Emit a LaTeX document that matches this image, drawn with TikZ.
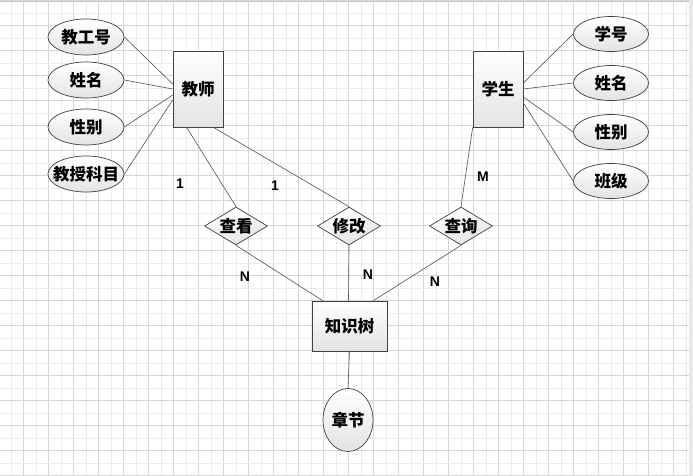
\documentclass[tikz,border=0pt]{standalone}
\usepackage{fontspec}
\usetikzlibrary{shapes.geometric,calc}
\newfontfamily\cjk{Noto Sans CJK SC}
\setsansfont{Liberation Sans}
\newcommand\zw[1]{\makebox[0pt]{#1}}
\definecolor{edgec}{HTML}{5A5A5A}
\definecolor{bordc}{HTML}{404040}
\tikzset{
  minorgrid/.style={draw=gray!16,line width=0.6pt},
  majorgrid/.style={draw=gray!32,line width=0.6pt},
  shapebase/.style={draw=bordc,line width=0.7pt,top color=white,bottom color=gray!22,inner sep=0pt,font=\cjk\bfseries\fontsize{16.5}{17}\selectfont},
  ent/.style={shapebase,rectangle,minimum width=50pt,minimum height=76pt},
  attr/.style={shapebase,ellipse,minimum width=76pt,minimum height=36pt},
  rel/.style={shapebase,diamond,minimum width=63pt,minimum height=38pt,shading angle=20},
  conn/.style={draw=edgec,line width=0.65pt},
  card/.style={font=\sffamily\bfseries\fontsize{14}{14}\selectfont,inner sep=0pt}
}
\begin{document}
\begin{tikzpicture}[x=1pt,y=-1pt]
\useasboundingbox (0,0) rectangle (693,476);
\fill[white] (0,0) rectangle (693,476);
% grid
\foreach \i in {0,...,54} {
  \pgfmathsetmacro\xx{10.8+12.5*\i}
  \ifodd\i \draw[majorgrid] (\xx,0) -- (\xx,476); \else \draw[minorgrid] (\xx,0) -- (\xx,476); \fi
}
\foreach \i in {0,...,38} {
  \pgfmathsetmacro\yy{0.7+12.5*\i}
  \ifodd\i \draw[minorgrid] (0,\yy) -- (693,\yy); \else \draw[majorgrid] (0,\yy) -- (693,\yy); \fi
}
\fill[gray!18] (689,0) rectangle (693,476);
\draw[gray!45,line width=0.6pt] (0,1) -- (689,1);

% entities
\node[ent] (t) at (198,89) {教师};
\node[ent] (s) at (498,89) {学生};
\node[ent,minimum width=75pt,minimum height=50pt] (k) at (349.5,326) {知识树};

% teacher attributes
\node[attr] (a1) at (86,37) {\zw{教工号}};
\node[attr] (a2) at (86,80) {\zw{姓名}};
\node[attr] (a3) at (86,127) {\zw{性别}};
\node[attr] (a4) at (86,174) {\zw{教授科目}};

% student attributes
\node[attr,minimum width=75pt,minimum height=35pt] (b1) at (611,34) {\zw{学号}};
\node[attr,minimum width=75pt,minimum height=35pt] (b2) at (611,83) {\zw{姓名}};
\node[attr,minimum width=75pt,minimum height=35pt] (b3) at (611,132) {\zw{性别}};
\node[attr,minimum width=75pt,minimum height=35pt] (b4) at (611,181) {\zw{班级}};

% chapter
\node[attr,minimum width=50pt,minimum height=63pt] (c) at (348,420) {\zw{章节}};

% relations
\node[rel] (r1) at (236,226) {\zw{查看}};
\node[rel] (r2) at (349,226) {\zw{修改}};
\node[rel] (r3) at (461,226) {\zw{查询}};

% connectors
\draw[conn] (a1.east) -- ($(t.west)+(0,-5)$);
\draw[conn] (a2.east) -- (t.west);
\draw[conn] (a3.east) -- ($(t.west)+(0,6)$);
\draw[conn] (a4.east) -- ($(t.west)+(0,11)$);

\draw[conn] ($(s.east)+(0,-6)$) -- (b1.west);
\draw[conn] (s.east) -- (b2.west);
\draw[conn] ($(s.east)+(0,8)$) -- (b3.west);
\draw[conn] ($(s.east)+(0,14)$) -- (b4.west);

\draw[conn] ($(t.south west)+(14,0)$) -- (r1.north);
\draw[conn] ($(t.south east)+(-10,0)$) -- (r2.north);
\draw[conn] (s.south west) -- (r3.north);

\draw[conn] (r1.south) -- ($(k.north west)+(11,0)$);
\draw[conn] (r2.south) -- ($(k.north)+(-1,0)$);
\draw[conn] (r3.south) -- ($(k.north east)+(-14,0)$);
\draw[conn] (k.south) -- (c.north);

% cardinalities
\node[card] (l1) at (180,184) {1};
\node[card] (l2) at (275,186) {1};
\node[card] (l3) at (483,177) {M};
\node[card] (l4) at (245,277) {N};
\node[card] (l5) at (368,275) {N};
\node[card] (l6) at (435,282) {N};
\end{tikzpicture}
\end{document}
